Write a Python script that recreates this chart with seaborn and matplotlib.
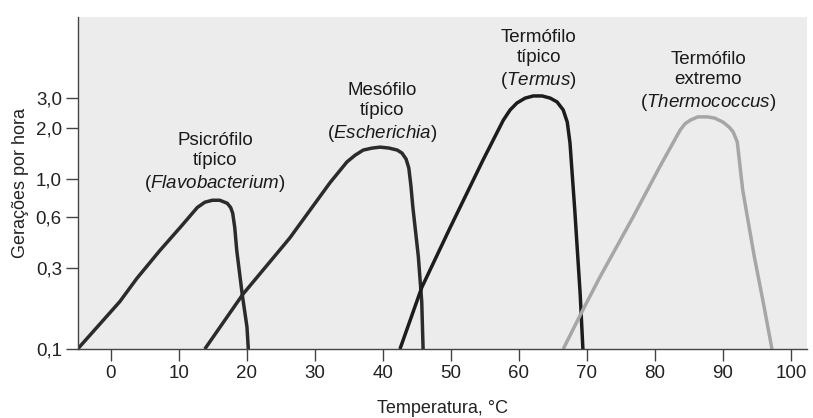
import matplotlib
matplotlib.use('Agg')
import matplotlib.pyplot as plt
import seaborn as sns
import pandas as pd

# temperatura (°C) e gerações por hora
psicro_temp = [-4.9, 1.3, 3.8, 7.2, 10.2, 12.7, 13.8, 14.9, 16.0, 17.1, 17.6, 17.9, 18.2, 18.5, 19.3, 20.0, 20.2]
psicro_rate = [0.10, 0.19, 0.26, 0.38, 0.52, 0.68, 0.73, 0.75, 0.75, 0.72, 0.68, 0.63, 0.52, 0.38, 0.21, 0.135, 0.10]

meso_temp = [13.8, 19.4, 26.3, 32.2, 34.7, 35.9, 37.1, 38.4, 39.6, 40.9, 42.1, 42.8, 43.4, 43.8, 44.1, 44.4, 45.2, 45.7, 45.9]
meso_rate = [0.10, 0.21, 0.45, 0.95, 1.26, 1.38, 1.48, 1.52, 1.54, 1.52, 1.48, 1.42, 1.31, 1.16, 0.92, 0.68, 0.35, 0.19, 0.10]

termo_temp = [42.5, 45.7, 49.9, 54.7, 57.7, 58.7, 59.7, 60.9, 62.1, 63.4, 64.6, 65.6, 66.5, 67.1, 67.5, 68.2, 69.0, 69.4]
termo_rate = [0.10, 0.23, 0.52, 1.29, 2.22, 2.55, 2.80, 2.99, 3.08, 3.08, 2.99, 2.84, 2.55, 2.16, 1.63, 0.66, 0.21, 0.10]

extremo_temp = [66.5, 69.4, 71.9, 76.8, 80.7, 83.7, 84.4, 85.2, 86.3, 87.7, 88.8, 90.0, 90.9, 91.5, 92.1, 92.9, 94.6, 95.9, 97.2]
extremo_rate = [0.10, 0.17, 0.265, 0.60, 1.18, 1.94, 2.11, 2.22, 2.32, 2.32, 2.28, 2.16, 2.02, 1.89, 1.65, 0.86, 0.35, 0.19, 0.10]

y_ticks = [0.1, 0.3, 0.6, 1.0, 2.0, 3.0]
y_ticklabels = ['0,1', '0,3', '0,6', '1,0', '2,0', '3,0']
x_ticks = [0, 10, 20, 30, 40, 50, 60, 70, 80, 90, 100]

sns.set_style('ticks')
plt.rcParams['font.family'] = ['Liberation Sans', 'DejaVu Sans']
plt.rcParams['mathtext.fontset'] = 'custom'
plt.rcParams['mathtext.it'] = 'Liberation Sans:italic'
plt.rcParams['mathtext.rm'] = 'Liberation Sans'

fig, ax = plt.subplots(figsize=(8.13, 4.18), dpi=100)
fig.subplots_adjust(left=0.0959, right=0.9926, bottom=0.165, top=0.9593)
ax.set_facecolor('#ececec')

curves = [
    (psicro_temp, psicro_rate, '#2b2b2b'),
    (meso_temp, meso_rate, '#2b2b2b'),
    (termo_temp, termo_rate, '#1c1c1c'),
    (extremo_temp, extremo_rate, '#a6a6a6'),
]
for t, r, c in curves:
    df = pd.DataFrame({'temp': t, 'rate': r})
    sns.lineplot(data=df, x='temp', y='rate', ax=ax, color=c, lw=2.5, sort=False,
                 solid_capstyle='butt', solid_joinstyle='round')

ax.set_yscale('log')
ax.set_xlim(-4.85, 102.35)
ax.set_ylim(0.1, 8.97)
ax.set_yticks(y_ticks)
ax.set_yticklabels(y_ticklabels)
ax.minorticks_off()
ax.set_xticks(x_ticks)
ax.tick_params(axis='both', length=8.6, width=1.0, color='#444444', labelsize=13.5,
               labelcolor='#222222', pad=3)
for s in ['left', 'bottom']:
    ax.spines[s].set_color('#444444')
    ax.spines[s].set_linewidth(1.0)
sns.despine(ax=ax)

ax.set_xlabel('Temperatura, °C', fontsize=13, labelpad=13, color='#222222')
ax.set_ylabel('Gerações por hora', fontsize=13, labelpad=5, color='#222222')

labels = [
    (15.3, 1.24, 'Psicrófilo\ntípico\n($\\mathit{Flavobacterium}$)'),
    (39.9, 2.44, 'Mesófilo\ntípico\n($\\mathit{Escherichia}$)'),
    (62.9, 5.01, 'Termófilo\ntípico\n($\\mathit{Termus}$)'),
    (87.8, 3.72, 'Termófilo\nextremo\n($\\mathit{Thermococcus}$)'),
]
for x, y, txt in labels:
    ax.text(x, y, txt, ha='center', va='center', multialignment='center',
            fontsize=13.5, color='#1a1a1a', linespacing=1.25)

fig.savefig('out.png', dpi=100)
